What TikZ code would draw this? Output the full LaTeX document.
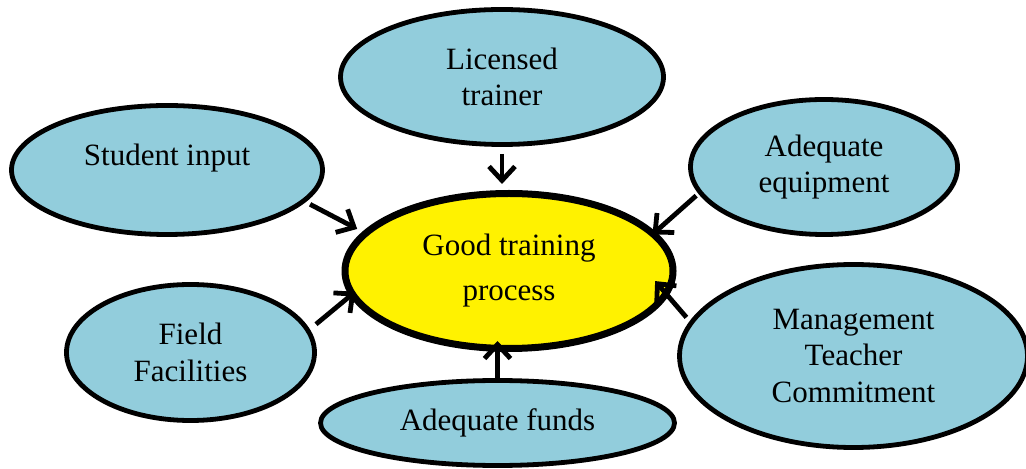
\documentclass[tikz,border=0pt]{standalone}
\usepackage{fontspec}
\setmainfont{Liberation Serif}
\usetikzlibrary{shapes.geometric,arrows.meta}
\definecolor{aqua}{RGB}{146,205,220}
\begin{document}
\begin{tikzpicture}[x=0.5pt,y=-0.5pt,
  bub/.style={ellipse, draw=black, line width=2.4pt, fill=aqua, inner sep=0pt,
    align=center, font=\fontsize{15.5pt}{18.25pt}\selectfont},
  hub/.style={bub, fill=yellow, line width=3.5pt},
  arr/.style={line width=2.4pt, -{Straight Barb[length=7pt,width=13pt]}}]
\useasboundingbox (0,0) rectangle (1026,469);
\node[hub, minimum width=164pt, minimum height=77.5pt] (c) at (509,271) {Good training\\[4.25pt]process};
\node[bub, minimum width=161.5pt, minimum height=67.5pt] (lic) at (502,77) {Licensed\\trainer};
\node[bub, minimum width=155.5pt, minimum height=64.5pt, text depth=15.4pt] (si) at (167,170) {Student input};
\node[bub, minimum width=133.5pt, minimum height=67.5pt] (eq) at (824,167) {Adequate\\equipment};
\node[bub, minimum width=124pt, minimum height=68pt] (ff) at (190.5,352.5) {Field\\Facilities};
\node[bub, minimum width=174pt, minimum height=91.5pt] (mg) at (853.5,356) {Management\\Teacher\\Commitment};
\node[bub, minimum width=177pt, minimum height=42.5pt] (fu) at (497.5,423) {Adequate funds};
\draw[arr, shorten <=3.5pt, shorten >=3pt] (lic.south) -- (c.north -| lic.south);
\draw[arr, shorten <=2.5pt, shorten >=3pt] (si.-13.2) -- (c.165.5);
\draw[arr, shorten <=4pt, shorten >=-3.5pt] (ff.11.6) -- (c.189.15);
\draw[arr, shorten >=-5.5pt] (fu.north) -- (c.south -| fu.north);
\draw[arr, shorten <=1.5pt, shorten >=-2pt] (eq.192.5) -- (c.15.4);
\draw[arr, shorten <=2.5pt, shorten >=-10pt] (mg.168.9) -- (c.-9.2);
\end{tikzpicture}
\end{document}
